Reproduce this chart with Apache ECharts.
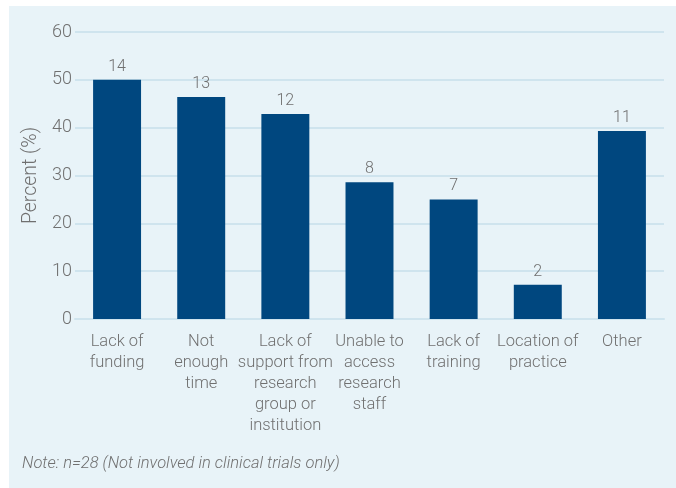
<!DOCTYPE html>
<html><head><meta charset="utf-8">
<script src="https://cdn.jsdelivr.net/npm/echarts@6/dist/echarts.min.js"></script>
<style>
html,body{margin:0;padding:0;background:#fff;width:676px;height:488px;overflow:hidden}
#panel{position:absolute;left:9px;top:6px;width:667px;height:482px;background:#E8F3F8}
#c{position:absolute;left:0;top:0;width:676px;height:488px}
</style></head><body>
<div id="panel"></div>
<div id="c"></div>
<script>
const categories = ["Lack of\nfunding","Not\nenough\ntime","Lack of\nsupport from\nresearch\ngroup or\ninstitution","Unable to\naccess\nresearch\nstaff","Lack of\ntraining","Location of\npractice","Other"];
const counts = [14, 13, 12, 8, 7, 2, 11];
const total = 28;
const percents = counts.map(c => c / total * 100);
const yTicks = [0, 10, 20, 30, 40, 50, 60];

const FONT = "'Roboto', sans-serif";
const TXT = '#707070';
const chart = echarts.init(document.getElementById('c'), null, {renderer:'canvas'});
chart.setOption({
  backgroundColor: 'transparent',
  animation: false,
  grid: {left: 75, right: 12, top: 32, bottom: 169},
  xAxis: {
    type: 'category', data: categories,
    axisLine: {show: true, lineStyle: {color: '#CFE4EE', width: 2}},
    axisTick: {show: false},
    axisLabel: {color: TXT, fontFamily: FONT, fontWeight: 300, fontSize: 16.5, lineHeight: 21, margin: 12, interval: 0, verticalAlign: 'top'}
  },
  yAxis: {
    type: 'value', min: 0, max: 60, interval: 10,
    name: 'Percent (%)', nameLocation: 'middle', nameGap: 33,
    nameTextStyle: {color: TXT, fontFamily: FONT, fontWeight: 300, fontSize: 19.5},
    axisLine: {show: false}, axisTick: {show: false},
    axisLabel: {color: TXT, fontFamily: FONT, fontWeight: 300, fontSize: 18, margin: 3,
      formatter: v => yTicks.includes(v) ? String(v) : ''},
    splitLine: {lineStyle: {color: '#CFE4EE', width: 2}}
  },
  series: [{
    type: 'bar', data: percents, barWidth: '57%',
    itemStyle: {color: '#00477F'},
    label: {show: true, position: 'top', distance: 5, color: TXT, fontFamily: FONT, fontWeight: 300, fontSize: 16,
      formatter: p => String(counts[p.dataIndex])}
  }],
  graphic: [{
    type: 'text', left: 22, top: 455,
    style: {text: 'Note: n=28 (Not involved in clinical trials only)', fill: TXT, font: "italic 300 16.5px 'Roboto', sans-serif"}
  }]
});
</script>
</body></html>
